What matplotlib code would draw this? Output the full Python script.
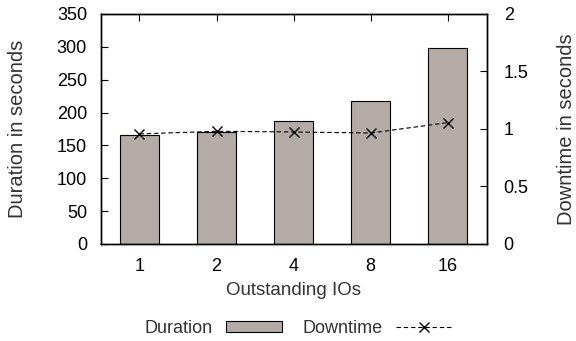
import numpy as np
import matplotlib
matplotlib.use('Agg')
import matplotlib.pyplot as plt

# valeurs
ios = ['1', '2', '4', '8', '16']
duration = [166, 170, 187, 217, 298]
downtime = [0.957, 0.98, 0.974, 0.965, 1.055]

plt.rcParams['font.family'] = ['Liberation Sans', 'DejaVu Sans']
plt.rcParams['font.size'] = 13

fig = plt.figure(figsize=(5.76, 3.41), dpi=100)
ax = fig.add_axes([0.1753, 0.2845, 0.6702, 0.6745])
x = np.arange(len(ios))

bars = ax.bar(x, duration, width=0.5, color='#b5aba6', edgecolor='black', linewidth=0.8,
	label='Duration', zorder=2)
ax.set_xlim(-0.5, 4.51)
ax.set_ylim(0, 350)
ax.set_yticks(np.arange(0, 351, 50))
ax.set_xticks(x)
ax.set_xticklabels(ios)
ax.tick_params(axis='both', direction='in', length=5, width=0.8, pad=10, colors='black')
ax.tick_params(axis='y', right=True)
ax.tick_params(axis='x', top=True)
ax.set_xlabel('Outstanding IOs', color='#333333', fontsize=13.5, labelpad=5)
ax.set_ylabel('Duration in seconds', color='#333333', fontsize=14.5, va='center')
ax.yaxis.set_label_coords((17.5 - 101) / 386, 0.5)

ax2 = ax.twinx()
line, = ax2.plot(x, downtime, color='black', linestyle=(0, (4, 2.5)), linewidth=0.8,
	marker='x', markersize=7, markeredgewidth=1, label='Downtime', zorder=3)
ax2.set_ylim(0, 2)
ax2.set_yticks([0, 0.5, 1, 1.5, 2])
ax2.set_yticklabels(['0', '0.5', '1', '1.5', '2'])
ax2.tick_params(axis='y', direction='in', length=5, width=0.8, pad=12)
ax2.set_ylabel('Downtime in seconds', color='#333333', fontsize=14.5, va='center')
ax2.yaxis.set_label_coords((566 - 101) / 386, 0.5)

for a in (ax, ax2):
	for s in a.spines.values():
		s.set_linewidth(1.0)

fig.legend([bars, line], ['Duration', 'Downtime'], loc='center', bbox_to_anchor=(0.518, 0.038),
	ncol=2, frameon=False, markerfirst=False, handlelength=3.1, handleheight=0.55,
	handletextpad=0.75, columnspacing=1.1, numpoints=1, borderpad=0, labelcolor='#333333')

fig.savefig('out.png', dpi=100)
